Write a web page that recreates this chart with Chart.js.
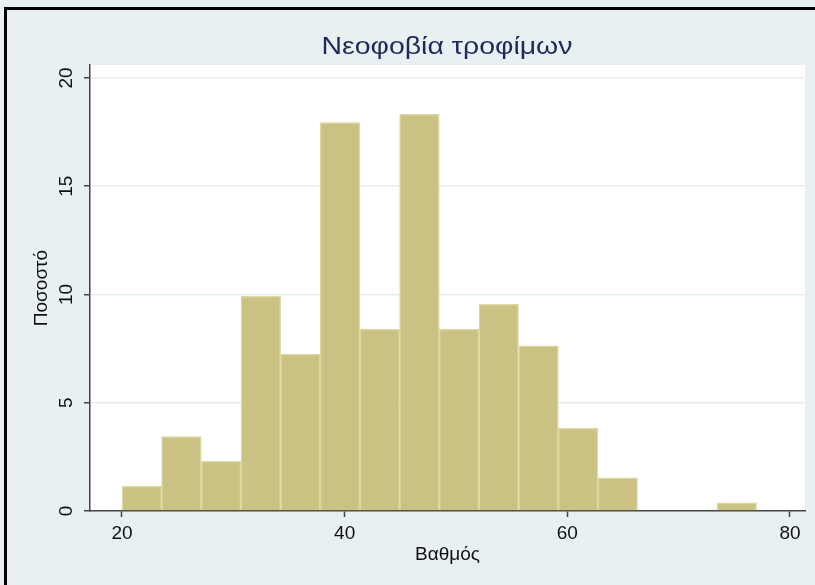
<!DOCTYPE html>
<html>
<head>
<meta charset="utf-8">
<script src="https://cdn.jsdelivr.net/npm/chart.js@4.4.0/dist/chart.umd.min.js"></script>
<style>
  html, body { margin: 0; padding: 0; background: #e8f0f2; }
  #wrap { position: relative; width: 815px; height: 585px; }
</style>
</head>
<body>
<div id="wrap"><canvas id="histChart" width="815" height="585"></canvas></div>
<script>
// histogram bins (midpoints of the 16 bins, 20 to 77) and percent per bin
const binMids = [21.78, 25.34, 28.91, 32.47, 36.03, 39.59, 43.16, 46.72, 50.28, 53.84, 57.41, 60.97, 64.53, 68.09, 71.66, 75.22];
const percents = [1.15, 3.44, 2.29, 9.92, 7.25, 17.94, 8.40, 18.32, 8.40, 9.54, 7.63, 3.82, 1.53, 0, 0, 0.38];
const xTicks = [20, 40, 60, 80];
const yTicks = [0, 5, 10, 15, 20];

const chartTitle = 'Νεοφοβία τροφίμων';
const xTitle = 'Βαθμός';
const yTitle = 'Ποσοστό';

const sans = "'Liberation Sans', Arial, sans-serif";

// background, white plot region, frame and title
const frame = {
    id: 'frame',
    beforeDraw(chart) {
        const ctx = chart.ctx;
        const a = chart.chartArea;
        ctx.save();
        ctx.fillStyle = '#e8f0f2';
        ctx.fillRect(0, 0, chart.width, chart.height);
        ctx.fillStyle = '#ffffff';
        ctx.fillRect(a.left, a.top, a.right - a.left, a.bottom - a.top);
        ctx.fillStyle = '#000000';
        ctx.fillRect(4, 7, chart.width - 4, 3);
        ctx.fillRect(4, 7, 3, chart.height - 7);
        // title, stretched to the width it has in the original
        ctx.fillStyle = '#1c2b5c';
        ctx.font = "24px " + sans;
        ctx.textAlign = 'center';
        ctx.textBaseline = 'middle';
        const w = ctx.measureText(chartTitle).width;
        ctx.translate(447, 47);
        ctx.scale(251 / w, 1);
        ctx.fillText(chartTitle, 0, 0);
        ctx.restore();
    }
};

const data = binMids.map((x, i) => ({ x: x, y: percents[i] }));

new Chart(document.getElementById('histChart').getContext('2d'), {
    type: 'bar',
    data: {
        datasets: [{
            data: data,
            backgroundColor: 'rgb(201, 194, 130)',
            borderColor: 'rgb(221, 216, 163)',
            borderWidth: 1.5,
            barPercentage: 1,
            categoryPercentage: 1
        }]
    },
    options: {
        responsive: false,
        animation: false,
        layout: { padding: { left: 0, top: 65, right: 10, bottom: 0 } },
        plugins: {
            legend: { display: false },
            tooltip: { enabled: false },
            title: { display: false }
        },
        scales: {
            x: {
                type: 'linear',
                offset: false,
                min: 17.13,
                max: 81.35,
                afterBuildTicks: scale => { scale.ticks = xTicks.map(v => ({ value: v })); },
                afterFit: scale => { scale.height = 74; },
                ticks: {
                    color: '#111',
                    font: { size: 19, family: sans },
                    padding: 5,
                    maxRotation: 0
                },
                grid: {
                    offset: false,
                    drawOnChartArea: false,
                    tickLength: 6,
                    tickColor: '#444',
                    tickWidth: 1.5
                },
                border: { color: '#444', width: 1.5 },
                title: {
                    display: true,
                    text: xTitle,
                    color: '#111',
                    font: { size: 19, family: sans },
                    padding: { top: 0, bottom: 19 }
                }
            },
            y: {
                min: 0,
                max: 20.6,
                afterBuildTicks: scale => { scale.ticks = yTicks.map(v => ({ value: v })); },
                afterFit: scale => { scale.width = 90; },
                ticks: {
                    color: '#111',
                    font: { size: 19, family: sans },
                    minRotation: 90,
                    maxRotation: 90,
                    crossAlign: 'center',
                    padding: 7
                },
                grid: {
                    color: ctx => ctx.tick && ctx.tick.value === 0 ? 'rgba(0,0,0,0)' : '#e4edf1',
                    lineWidth: 1.5,
                    tickLength: 6,
                    tickColor: '#444',
                    tickWidth: 1.5
                },
                border: { color: '#444', width: 1.5 },
                title: {
                    display: true,
                    text: yTitle,
                    color: '#111',
                    font: { size: 19, family: sans },
                    padding: { top: 30, bottom: 0 }
                }
            }
        }
    },
    plugins: [frame]
});
</script>
</body>
</html>
